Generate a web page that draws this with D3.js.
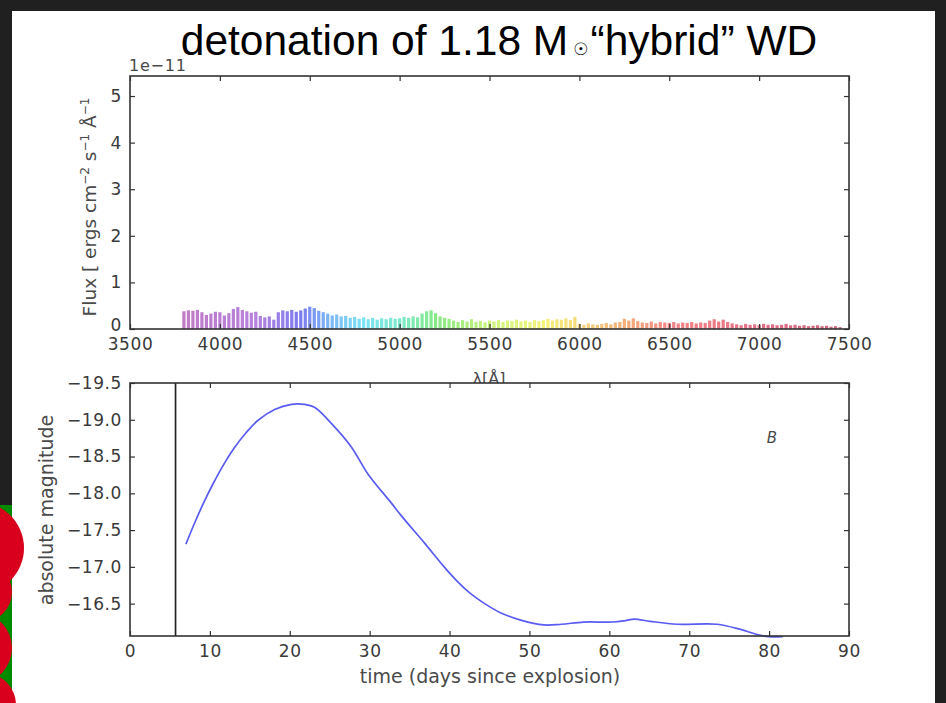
<!DOCTYPE html>
<html>
<head>
<meta charset="utf-8">
<script src="https://cdn.jsdelivr.net/npm/d3@7"></script>
<style>
  body { margin: 0; background: #202020; }
  svg { display: block; }
  .tick text { font-family: "DejaVu Sans", sans-serif; font-size: 17px; fill: #3a3a3a; letter-spacing: 0.6px; }
  .tick line { stroke: #333; stroke-width: 1.2; }
  .lbl { font-family: "DejaVu Sans", sans-serif; fill: #4a4a4a; }
</style>
</head>
<body>
<svg id="chart" width="946" height="703"></svg>
<script>
// spectrum (flux in units of 1e-11)
const waveAA = [
  3800, 3825, 3850, 3875, 3900, 3925, 3950, 3975, 4000, 4025, 4050, 4075, 4100, 4125, 4150, 4175,
  4200, 4225, 4250, 4275, 4300, 4325, 4350, 4375, 4400, 4425, 4450, 4475, 4500, 4525, 4550, 4575,
  4600, 4625, 4650, 4675, 4700, 4725, 4750, 4775, 4800, 4825, 4850, 4875, 4900, 4925, 4950, 4975,
  5000, 5025, 5050, 5075, 5100, 5125, 5150, 5175, 5200, 5225, 5250, 5275, 5300, 5325, 5350, 5375,
  5400, 5425, 5450, 5475, 5500, 5525, 5550, 5575, 5600, 5625, 5650, 5675, 5700, 5725, 5750, 5775,
  5800, 5825, 5850, 5875, 5900, 5925, 5950, 5975, 6000, 6025, 6050, 6075, 6100, 6125, 6150, 6175,
  6200, 6225, 6250, 6275, 6300, 6325, 6350, 6375, 6400, 6425, 6450, 6475, 6500, 6525, 6550, 6575,
  6600, 6625, 6650, 6675, 6700, 6725, 6750, 6775, 6800, 6825, 6850, 6875, 6900, 6925, 6950, 6975,
  7000, 7025, 7050, 7075, 7100, 7125, 7150, 7175, 7200, 7225, 7250, 7275, 7300, 7325, 7350, 7375,
  7400, 7425, 7450
];
const fluxE11 = [
  0.38, 0.40, 0.39, 0.41, 0.36, 0.30, 0.33, 0.37, 0.36, 0.29, 0.34, 0.43, 0.47, 0.41, 0.38, 0.35,
  0.37, 0.28, 0.25, 0.27, 0.20, 0.36, 0.40, 0.38, 0.41, 0.37, 0.40, 0.44, 0.48, 0.45, 0.39, 0.36,
  0.33, 0.29, 0.31, 0.27, 0.28, 0.24, 0.26, 0.22, 0.25, 0.21, 0.24, 0.20, 0.23, 0.21, 0.24, 0.22,
  0.23, 0.26, 0.24, 0.27, 0.25, 0.33, 0.38, 0.40, 0.34, 0.27, 0.24, 0.22, 0.18, 0.15, 0.19, 0.16,
  0.21, 0.15, 0.17, 0.14, 0.18, 0.16, 0.19, 0.15, 0.18, 0.17, 0.20, 0.16, 0.18, 0.15, 0.19, 0.17,
  0.19, 0.22, 0.18, 0.21, 0.20, 0.23, 0.19, 0.26, 0.11, 0.09, 0.12, 0.10, 0.09, 0.11, 0.13, 0.10,
  0.14, 0.15, 0.22, 0.18, 0.23, 0.17, 0.14, 0.13, 0.16, 0.12, 0.15, 0.14, 0.13, 0.15, 0.12, 0.14,
  0.13, 0.15, 0.12, 0.14, 0.13, 0.18, 0.21, 0.16, 0.20, 0.15, 0.12, 0.10, 0.08, 0.11, 0.09, 0.10,
  0.08, 0.11, 0.09, 0.10, 0.08, 0.09, 0.11, 0.08, 0.09, 0.07, 0.08, 0.06, 0.07, 0.08, 0.06, 0.07,
  0.05, 0.06, 0.04
];
const waveTicks = [3500, 4000, 4500, 5000, 5500, 6000, 6500, 7000, 7500];
const fluxTicks = [0, 1, 2, 3, 4, 5];

// B-band light curve
const lcDays = [7.0, 8.1, 9.3, 10.4, 11.5, 13.0, 14.5, 16.0, 18.1, 20.2, 21.8, 23.1, 25.2, 27.7, 29.8,
  32.7, 34.0, 36.9, 39.4, 41.0, 42.6, 44.4, 46.3, 48.8, 51.8, 54.0, 56.8, 60.5, 62.0, 63.1, 65.1,
  68.5, 73.5, 76.4, 78.5, 80.0, 81.7];
const lcMag = [-17.31, -17.60, -17.89, -18.13, -18.35, -18.61, -18.82, -18.99, -19.14, -19.21, -19.21,
  -19.17, -18.95, -18.63, -18.26, -17.87, -17.69, -17.32, -16.99, -16.80, -16.64, -16.50, -16.38,
  -16.28, -16.21, -16.22, -16.25, -16.25, -16.27, -16.29, -16.26, -16.22, -16.22, -16.15, -16.08,
  -16.05, -16.05];
const currentDay = 5.7;
const dayTicks = [0, 10, 20, 30, 40, 50, 60, 70, 80, 90];
const magTicks = [-19.5, -19.0, -18.5, -18.0, -17.5, -17.0, -16.5];

const svg = d3.select('#chart');

// slide background bits
svg.append('rect').attr('x', 12).attr('y', 11).attr('width', 923).attr('height', 692).attr('fill', '#fff');
const deco = svg.append('g');
deco.append('rect').attr('x', 0).attr('y', 505).attr('width', 12).attr('height', 198).attr('fill', '#008a00');
[[-22, 548, 46], [-18, 592, 30], [-24, 648, 36], [-16, 705, 32]].forEach(c => {
  deco.append('circle').attr('cx', c[0]).attr('cy', c[1]).attr('r', c[2]).attr('fill', '#d8001c');
});

// title
const title = svg.append('text')
  .attr('x', 499).attr('y', 55)
  .attr('text-anchor', 'middle')
  .style('font-family', '"Liberation Sans", Arial, sans-serif')
  .style('font-size', '42.5px')
  .attr('fill', '#000');
title.append('tspan').text('detonation of 1.18 M');
title.append('tspan').attr('dx', 5).style('font-size', '17px').style('font-family', '"DejaVu Sans"').text('☉');
title.append('tspan').attr('dx', 2).text('\u201Chybrid\u201D WD');

function frameAxes(g, x, y, w, h) {
  g.append('rect').attr('x', x).attr('y', y).attr('width', w).attr('height', h)
    .attr('fill', 'none').attr('stroke', '#333').attr('stroke-width', 1.6);
}

// ---------- top panel: spectrum ----------
const specBox = { left: 130, right: 849, top: 76, bottom: 329 };
const xW = d3.scaleLinear().domain([3500, 7500]).range([specBox.left, specBox.right]);
const yF = d3.scaleLinear().domain([0, 5.43]).range([specBox.bottom, specBox.top]);
const waveColor = d3.scaleLinear()
  .domain([3800, 4200, 4450, 4600, 4800, 5000, 5200, 5500, 5800, 6050, 6250, 6500, 7000, 7500])
  .range(['#a848b0', '#9a50d0', '#4848e8', '#4898f0', '#48d8f0', '#48e0b8', '#58e058', '#b8f048',
          '#f0f048', '#f0c048', '#f09048', '#f05858', '#d83858', '#b82848'])
  .interpolate(d3.interpolateRgb);

const gTop = svg.append('g');
const spec = waveAA.map((w, i) => ({ w: w, f: fluxE11[i] }));
gTop.selectAll('rect.bar').data(spec).enter().append('rect')
  .attr('class', 'bar')
  .attr('x', d => xW(d.w) - 1.6)
  .attr('width', 3.2)
  .attr('y', d => yF(d.f))
  .attr('height', d => yF(0) - yF(d.f))
  .attr('fill', d => waveColor(d.w))
  .attr('opacity', 0.72);

gTop.append('g').attr('transform', `translate(0,${specBox.bottom})`)
  .call(d3.axisBottom(xW).tickValues(waveTicks).tickFormat(d3.format('d')).tickSizeInner(-5).tickSizeOuter(0).tickPadding(9))
  .call(a => a.select('.domain').remove());
gTop.append('g').attr('transform', `translate(0,${specBox.top})`)
  .call(d3.axisTop(xW).tickValues(waveTicks).tickFormat('').tickSizeInner(-5).tickSizeOuter(0))
  .call(a => a.select('.domain').remove());
gTop.append('g').attr('transform', `translate(${specBox.left},0)`)
  .call(d3.axisLeft(yF).tickValues(fluxTicks).tickFormat(d3.format('d')).tickSizeInner(-5).tickSizeOuter(0).tickPadding(8))
  .call(a => a.select('.domain').remove())
  .call(a => a.selectAll('.tick text').attr('dy', d => d === 0 ? '0.1em' : '0.32em'));
gTop.append('g').attr('transform', `translate(${specBox.right},0)`)
  .call(d3.axisRight(yF).tickValues(fluxTicks).tickFormat('').tickSizeInner(-5).tickSizeOuter(0))
  .call(a => a.select('.domain').remove());
frameAxes(gTop, specBox.left, specBox.top, specBox.right - specBox.left, specBox.bottom - specBox.top);

svg.append('text').attr('class', 'lbl').attr('x', 129).attr('y', 71)
  .style('font-size', '16px').style('letter-spacing', '0.8px').text('1e\u221211');

const yl = svg.append('text').attr('class', 'lbl')
  .attr('transform', 'translate(96,207) rotate(-90)')
  .attr('text-anchor', 'middle').style('font-size', '18.5px');
yl.append('tspan').text('Flux [ ergs cm');
yl.append('tspan').attr('baseline-shift', 'super').style('font-size', '12px').text('\u22122');
yl.append('tspan').text(' s');
yl.append('tspan').attr('baseline-shift', 'super').style('font-size', '12px').text('\u22121');
yl.append('tspan').text(' \u00C5');
yl.append('tspan').attr('baseline-shift', 'super').style('font-size', '12px').text('\u22121');

svg.append('text').attr('class', 'lbl').attr('x', 489).attr('y', 384)
  .attr('text-anchor', 'middle').style('font-size', '16px').text('\u03BB[\u00C5]');

// ---------- bottom panel: light curve ----------
const lcBox = { left: 130, right: 849, top: 383, bottom: 636 };
const xD = d3.scaleLinear().domain([0, 90]).range([lcBox.left, lcBox.right]);
const yM = d3.scaleLinear().domain([-16.06, -19.5]).range([lcBox.bottom, lcBox.top]);

const gBot = svg.append('g');
gBot.append('rect').attr('x', lcBox.left).attr('y', lcBox.top)
  .attr('width', lcBox.right - lcBox.left).attr('height', lcBox.bottom - lcBox.top).attr('fill', '#fff');

gBot.append('line')
  .attr('x1', xD(currentDay)).attr('x2', xD(currentDay))
  .attr('y1', lcBox.top).attr('y2', lcBox.bottom)
  .attr('stroke', '#222').attr('stroke-width', 1.7);

const line = d3.line().x(d => xD(d[0])).y(d => yM(d[1])).curve(d3.curveCatmullRom.alpha(0.5));
gBot.append('path')
  .datum(lcDays.map((d, i) => [d, lcMag[i]]))
  .attr('d', line)
  .attr('fill', 'none')
  .attr('stroke', '#5a5cf0')
  .attr('stroke-width', 1.7);

gBot.append('g').attr('transform', `translate(0,${lcBox.bottom})`)
  .call(d3.axisBottom(xD).tickValues(dayTicks).tickFormat(d3.format('d')).tickSizeInner(-5).tickSizeOuter(0).tickPadding(9))
  .call(a => a.select('.domain').remove());
gBot.append('g').attr('transform', `translate(0,${lcBox.top})`)
  .call(d3.axisTop(xD).tickValues(dayTicks).tickFormat('').tickSizeInner(-5).tickSizeOuter(0))
  .call(a => a.select('.domain').remove());
gBot.append('g').attr('transform', `translate(${lcBox.left},0)`)
  .call(d3.axisLeft(yM).tickValues(magTicks).tickFormat(d3.format('.1f')).tickSizeInner(-5).tickSizeOuter(0).tickPadding(8))
  .call(a => a.select('.domain').remove());
gBot.append('g').attr('transform', `translate(${lcBox.right},0)`)
  .call(d3.axisRight(yM).tickValues(magTicks).tickFormat('').tickSizeInner(-5).tickSizeOuter(0))
  .call(a => a.select('.domain').remove());
frameAxes(gBot, lcBox.left, lcBox.top, lcBox.right - lcBox.left, lcBox.bottom - lcBox.top);

svg.append('text').attr('class', 'lbl').attr('x', 772).attr('y', 443)
  .attr('text-anchor', 'middle').style('font-size', '15px').style('font-style', 'italic').text('B');

svg.append('text').attr('class', 'lbl')
  .attr('transform', 'translate(53,510) rotate(-90)')
  .attr('text-anchor', 'middle').style('font-size', '19px').text('absolute magnitude');

svg.append('text').attr('class', 'lbl').attr('x', 490).attr('y', 683)
  .attr('text-anchor', 'middle').style('font-size', '19px')
  .text('time (days since explosion)');
</script>
</body>
</html>
